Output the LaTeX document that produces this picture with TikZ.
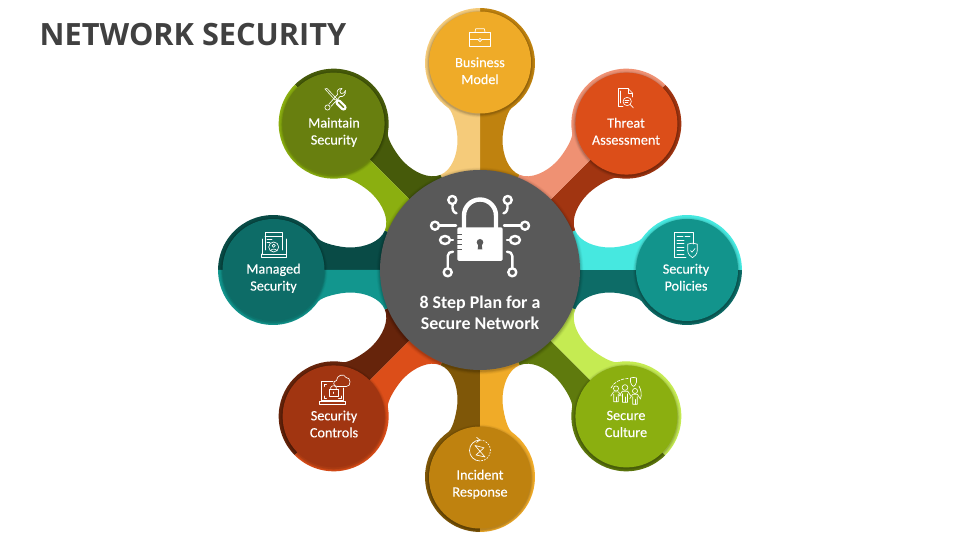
\documentclass[tikz,border=0pt]{standalone}
\usepackage{fontspec}
\setmainfont{Carlito}
\newfontfamily\lblfont[FakeBold=0.2]{Carlito}
\newfontfamily\titlefont{Open Sans}
\tikzset{
  x=1pt,y=1pt,
  lbl/.style={text=white,align=center,font=\lblfont\fontsize{14.2}{17}\selectfont,inner sep=0pt},
  ic/.style={draw=white,line width=.65pt,line join=round,line cap=round},
  lk/.style={draw=white,line width=2.4pt,line cap=round,line join=round},
  top/.style={shift={(0,540)},yscale=-1},
}
\definecolor{cTitle}{HTML}{404040}
\definecolor{cGrey}{HTML}{595959}
\definecolor{aL}{HTML}{F5CB7A}\definecolor{aD}{HTML}{BF820F}\definecolor{aI}{HTML}{EFAB28}
\definecolor{bL}{HTML}{EF9173}\definecolor{bD}{HTML}{A13511}\definecolor{bI}{HTML}{DC4E19}
\definecolor{cL}{HTML}{46E8E0}\definecolor{cD}{HTML}{0D6C67}\definecolor{cI}{HTML}{12948C}
\definecolor{dL}{HTML}{C5EB52}\definecolor{dD}{HTML}{5F7A0D}\definecolor{dI}{HTML}{8BAF10}
\definecolor{eL}{HTML}{F0AB28}\definecolor{eD}{HTML}{7F5708}\definecolor{eI}{HTML}{BF820F}
\definecolor{fL}{HTML}{DC4E19}\definecolor{fD}{HTML}{66240B}\definecolor{fI}{HTML}{A13511}
\definecolor{gL}{HTML}{12968E}\definecolor{gD}{HTML}{094B46}\definecolor{gI}{HTML}{0D6C67}
\definecolor{hL}{HTML}{8BAF10}\definecolor{hD}{HTML}{465A0A}\definecolor{hI}{HTML}{687F0F}
\newcommand\halfarm{(0,0) -- (39.4,95.2) .. controls (28.3,99.8) and (22.5,115) .. (22.5,130)
   .. controls (22.5,140) and (26.8,158.5) .. (31.7,162)
   arc[start angle=-54.8,end angle=90,radius=55] -- cycle}
% rotation (clockwise degrees), light, dark
\newcommand\armshape[3]{\begin{scope}[shift={(480,270)},rotate=-#1]
  \fill[#3] \halfarm;
  \begin{scope}[xscale=-1]\fill[#2] \halfarm;\end{scope}
\end{scope}}
\newcommand\disc[3]{% x, y(up), colour, radius fixed
  \foreach \r/\o in {3/.03,2.2/.05,1.4/.07,.7/.09}{\fill[black,opacity=\o] (#1,#2-1) circle[radius=51+\r];}
  \fill[#3] (#1,#2) circle[radius=51];}
\newcommand\shieldicon[3]{% x y size, image coordinates
  \begin{scope}[shift={(#1,#2)},scale=#3]
   \draw[ic] (-3,-4) -- (0,-4.6) -- (3,-4) -- (3,0) .. controls (3,2.5) and (1,3.8) .. (0,4.5) .. controls (-1,3.8) and (-3,2.5) .. (-3,0) -- cycle;
  \end{scope}}
\newcommand\person[3]{% x y size
  \begin{scope}[shift={(#1,#2)},scale=#3]
   \draw[ic] (0,0) circle[radius=2.7];
   \draw[ic] (-5.5,8) -- (-2.6,3.6) -- (2.6,3.6) -- (5.5,8) (-2.4,6) -- (-2.4,14) -- (2.4,14) -- (2.4,6);
   \draw[ic] (0,9) -- (0,14);
  \end{scope}}
\begin{document}
\begin{tikzpicture}
\useasboundingbox (0,0) rectangle (960,540);
\fill[white] (0,0) rectangle (960,540);
\node[anchor=west,font=\titlefont\bfseries\fontsize{30.7}{36}\selectfont,text=cTitle,inner sep=0pt] (title) at (39.5,505) {NETWORK SECURITY};
% arms
\armshape{0}{aL}{aD}
\armshape{45}{bL}{bD}
\armshape{90}{cL}{cD}
\armshape{135}{dL}{dD}
\armshape{180}{eL}{eD}
\armshape{225}{fL}{fD}
\armshape{270}{gL}{gD}
\armshape{315}{hL}{hD}
% inner discs
\disc{480}{477.5}{aI}
\disc{626.4}{416.4}{bI}
\disc{687}{270}{cI}
\disc{626.4}{123.6}{dI}
\disc{480}{62.5}{eI}
\disc{333.6}{123.6}{fI}
\disc{273.5}{270}{gI}
\disc{333.6}{416.4}{hI}
% centre
\foreach \r/\o in {3.5/.03,2.6/.05,1.7/.07,.8/.09}{\fill[black,opacity=\o] (480,269) circle[radius=100+\r];}
\fill[cGrey] (480,270) circle[radius=100];
% labels
\node[lbl] (n1) at (480,469.2) {Business\\Model};
\node[lbl] (n2) at (626,408.7) {Threat\\Assessment};
\node[lbl] (n3) at (686,262.7) {Security\\Policies};
\node[lbl] (n4) at (626,116) {Secure\\Culture};
\node[lbl] (n5) at (480,55.7) {Incident\\Response};
\node[lbl] (n6) at (334,116) {Security\\Controls};
\node[lbl] (n7) at (273.5,261.7) {Managed\\Security};
\node[lbl] (n8) at (334,407.7) {Maintain\\Security};
\node[text=white,align=center,inner sep=0pt,font=\bfseries\fontsize{17.9}{21}\selectfont] (c) at (480,227) {8 Step Plan for a\\Secure Network};
% ---- icons, in image coordinates
\begin{scope}[top]
 % lock
 \fill[white,rounded corners=1.5pt] (457.3,227.3) rectangle (502.7,261);
 \draw[white,line width=4.4pt] (464,229) -- (464,215.5) arc[start angle=180,end angle=360,radius=16] -- (496,229);
 \foreach \y in {235,240,245,250}{\draw[cGrey,line width=1pt] (456.5,\y) -- (462,\y);}
 \fill[cGrey] (480,242.3) circle[radius=3.3];
 \fill[cGrey] (478.4,243) -- (481.6,243) -- (482.3,249.3) -- (477.7,249.3) -- cycle;
 \foreach \s in {1,-1}{
  \begin{scope}[shift={(480,0)},xscale=\s]
   \draw[lk] (-27.7,200) circle[radius=4];
   \draw[lk] (-27.4,204.5) .. controls (-28,209) and (-27,212.5) .. (-23.5,213.3);
   \draw[lk] (-45,225.7) circle[radius=4];
   \draw[lk] (-40.5,225.7) -- (-24,225.7);
   \draw[lk] (-35,240) ellipse[x radius=5,y radius=4];
   \draw[lk] (-30,240) -- (-27,240);
   \draw[lk] (-32.3,272.3) circle[radius=4];
   \draw[lk] (-32.3,267.5) -- (-32.3,256) .. controls (-32.3,253) and (-30,251.7) .. (-27,251.7);
  \end{scope}}
 % briefcase
 \draw[ic] (469.5,32) rectangle (490.5,46.5);
 \draw[ic] (475,32) -- (475.7,28.8) -- (484.3,28.8) -- (485,32);
 \draw[ic] (469.5,39.3) -- (478,39.3) (482,39.3) -- (490.5,39.3);
 \draw[ic] (480,40) circle[radius=1.6];
 % threat document
 \draw[ic] (618.5,88.5) -- (628,88.5) -- (632.5,93) -- (632.5,97);
 \draw[ic] (628,88.5) -- (628,93) -- (632.5,93);
 \draw[ic] (618.5,88.5) -- (618.5,106) -- (623,106);
 \draw[ic] (620.5,91) -- (620.5,103);
 \draw[ic] (627.2,101.5) circle[radius=4.2];
 \draw[ic] (625,100.3) -- (629,100.3) (625,102.7) -- (628,102.7);
 \draw[ic] (630.2,104.6) -- (633.3,107.8);
 % policies document
 \draw[ic] (693,244) -- (693,232.7) -- (674.5,232.7) -- (674.5,257) -- (686,257);
 \draw[ic] (677,236) -- (683,236) (685,236) -- (690,236);
 \foreach \y in {240,243.5,247,250.5,254}{\draw[ic] (677,\y) -- (684,\y);}
 \shieldicon{692.5}{250.5}{1.6}
 \draw[ic] (690.5,250.5) -- (692,252.2) -- (695,248.5);
 % secure culture
 \person{616}{388.5}{.95}
 \person{625}{387.5}{1.05}
 \person{635}{391}{.95}
 \shieldicon{633.5}{382}{1}
 \draw[ic,dash pattern=on 3pt off 1.5pt] (611,388) .. controls (614,382) and (620,379) .. (628,378.5);
 \draw[ic] (639,386) .. controls (641,390) and (642,394) .. (640.5,399);
 % incident response
 \draw[ic] (480,440) arc[start angle=270,end angle=90,radius=10.5];
 \draw[ic,dash pattern=on 1.4pt off 1.6pt] (480,440) arc[start angle=270,end angle=450,radius=10.5];
 \draw[ic] (476.5,437.3) -- (479.8,440) -- (476.5,442.4);
 \draw[ic] (475,445.5) -- (484,447.8) -- (476,455) -- (485,457) -- cycle;
 % security controls
 \draw[ic] (321.5,400.5) -- (321.5,381) -- (333,381);
 \draw[ic] (343.5,388) -- (343.5,400.5) -- (321.5,400.5);
 \draw[ic] (319.8,401.5) -- (345.2,401.5) -- (345.2,404) -- (319.8,404) -- cycle;
 \draw[ic] (324,386.5) -- (324,384) -- (326.5,384) (341,396) -- (341,398.2) -- (338.5,398.2) (324,396) -- (324,398.2) -- (326.5,398.2);
 \fill[fI] (334,376) rectangle (350,386);
 \draw[ic] (337,386.5) .. controls (333,386.5) and (332.5,381) .. (336.5,380.5)
   .. controls (336.5,375.5) and (344,372.5) .. (346,377.5)
   .. controls (351,377) and (351.5,386.5) .. (346.5,386.5) -- cycle;
 \draw[ic] (329,389.5) rectangle (338,396.5);
 \draw[ic] (330.8,389.5) -- (330.8,387.3) .. controls (331,385.3) and (336,385.3) .. (336.2,387.3) -- (336.2,389.5);
 \draw[ic] (333.5,392) -- (333.5,393.5);
 % managed security
 \draw[ic] (265,250) -- (265,232.8) -- (282,232.8) -- (282,250);
 \draw[ic] (265,236.5) -- (282,236.5);
 \draw[ic] (267,239.5) -- (272,239.5) (267,242) -- (270,242);
 \draw[ic] (262,239) -- (262,254) -- (286,254) -- (286,239);
 \draw[ic] (261.8,254) -- (261.8,257) -- (286,257) -- (286,254);
 \draw[ic] (273.7,247) circle[radius=5];
 \draw[ic] (273.7,245.7) circle[radius=1.6];
 \draw[ic] (270.7,250.8) .. controls (271,248.5) and (276.5,248.5) .. (276.7,250.8);
 % wrench and screwdriver
 \draw[white,line width=2.4pt,double=hI,double distance=1.4pt,line cap=round] (338.5,102.5) -- (343.5,107.5);
 \draw[white,line width=.6pt] (325,89) -- (327,88.5) -- (337,99) -- (335,100) -- cycle;
 \draw[ic] (331,106.5) -- (340,96.5) (328.8,104.3) -- (337.5,94.5);
 \draw[ic] (327.5,107.5) circle[radius=2.6];
 \draw[ic] (337.5,94.5) .. controls (336,91) and (338.5,88) .. (342,88.5) -- (339.8,91) -- (341,93.5) -- (343.8,93) -- (345.5,90.5) .. controls (346,94.5) and (343,97.5) .. (340,96.5);
\end{scope}
\end{tikzpicture}
\end{document}
